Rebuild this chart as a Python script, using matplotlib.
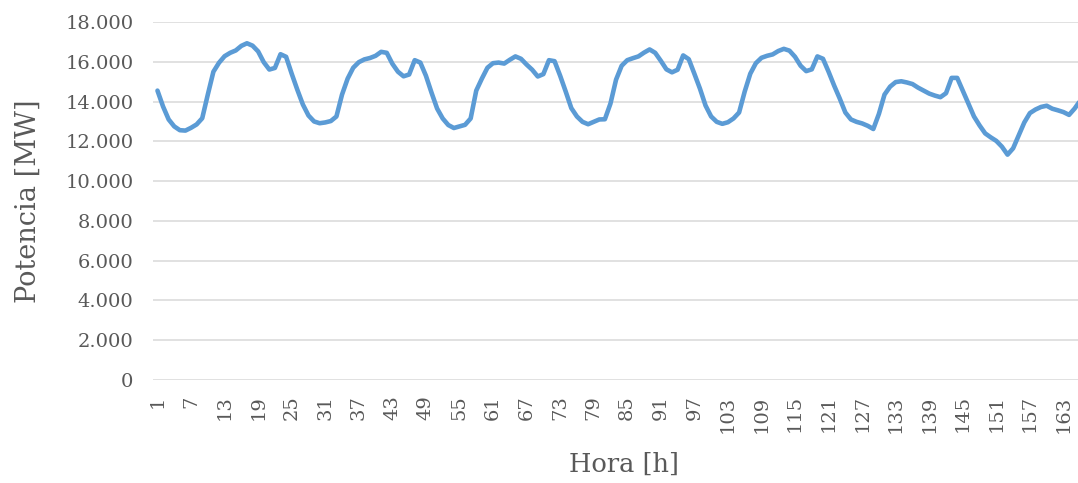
import matplotlib
matplotlib.use("Agg")
import matplotlib.pyplot as plt

# Hourly power demand over one week (MW)
hours = list(range(1, 167))
power_mw = [
    14550, 13750, 13100, 12750, 12560, 12540, 12680, 12850, 13160, 14350,
    15500, 15950, 16280, 16450, 16570, 16800, 16930, 16810, 16520, 15980,
    15610, 15690, 16380, 16250, 15400, 14600, 13850, 13300, 13000, 12910,
    12950, 13020, 13250, 14350, 15150, 15700, 15980, 16120, 16190, 16300,
    16500, 16450, 15900, 15500, 15270, 15360, 16080, 15960, 15300, 14450,
    13650, 13150, 12820, 12670, 12750, 12830, 13150, 14550, 15150, 15700,
    15930, 15960, 15910, 16100, 16270, 16150, 15860, 15600, 15260, 15380,
    16080, 16030, 15300, 14500, 13670, 13250, 12980, 12860, 12980, 13100,
    13110, 13900, 15100, 15800, 16080, 16180, 16270, 16460, 16620, 16450,
    16050, 15620, 15470, 15600, 16320, 16130, 15400, 14650, 13800, 13250,
    12980, 12880, 12960, 13150, 13450, 14500, 15400, 15930, 16200, 16300,
    16370, 16540, 16650, 16560, 16250, 15800, 15530, 15620, 16270, 16150,
    15500, 14800, 14150, 13450, 13100, 12980, 12900, 12780, 12620, 13380,
    14350, 14750, 14980, 15020, 14960, 14880, 14700, 14550, 14400, 14300,
    14220, 14420, 15190, 15190, 14550, 13900, 13250, 12800, 12400, 12200,
    12020, 11730, 11330, 11650, 12300, 12950, 13420, 13600, 13730, 13790,
    13640, 13560, 13470, 13330, 13650, 14050,
]

x_ticks = list(range(1, 164, 6))
y_ticks = list(range(0, 18001, 2000))
y_tick_labels = ["0", "2.000", "4.000", "6.000", "8.000", "10.000",
                 "12.000", "14.000", "16.000", "18.000"]

text_color = "#595959"
plt.rcParams["font.family"] = ["DejaVu Serif"]

fig = plt.figure(figsize=(10.78, 4.83), dpi=100)
ax = fig.add_axes([153 / 1078, 103 / 483, 925 / 1078, 358 / 483])

ax.plot(hours, power_mw, color="#5B9BD5", linewidth=3.3,
        solid_joinstyle="round", solid_capstyle="round", zorder=3)

ax.set_xlim(0.2, 165.6)
ax.set_ylim(0, 18000)
ax.set_yticks(y_ticks)
ax.set_yticklabels(y_tick_labels)
ax.set_xticks(x_ticks)
ax.set_xticklabels([str(h) for h in x_ticks], rotation=90, va="top")

ax.grid(axis="y", color="#D9D9D9", linewidth=1.1)
ax.set_axisbelow(True)
for side in ["top", "right", "left", "bottom"]:
    ax.spines[side].set_visible(False)
ax.tick_params(axis="both", length=0, colors=text_color, labelsize=14)
ax.tick_params(axis="y", pad=14)
ax.tick_params(axis="x", pad=11)

ax.set_xlabel("Hora [h]", fontsize=18.5, color=text_color, va="center")
ax.xaxis.set_label_coords(0.509, -0.235)
ax.set_ylabel("Potencia [MW]", fontsize=19.5, color=text_color, labelpad=17)

fig.savefig("out.png", dpi=100)
